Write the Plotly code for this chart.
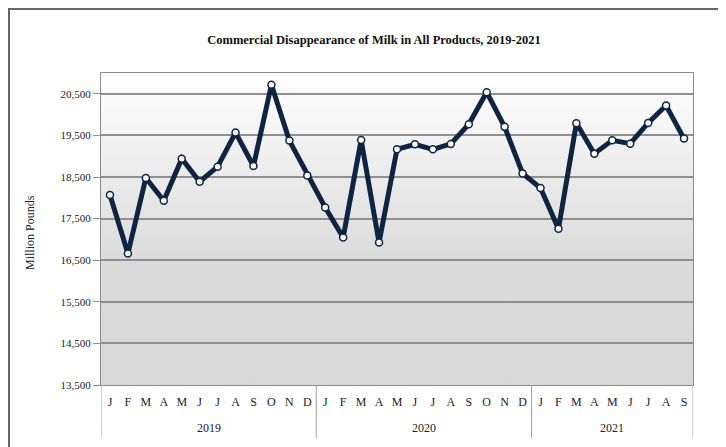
import base64
import plotly.graph_objects as go

years = ["2019", "2020", "2021"]
month_letters = ["J", "F", "M", "A", "M", "J", "J", "A", "S", "O", "N", "D"]
months_per_year = [12, 12, 9]

disappearance = [
    18066, 16660, 18476, 17929, 18941, 18387, 18748, 19567, 18765, 20717, 19375, 18539,
    17767, 17045, 19391, 16924, 19165, 19285, 19165, 19295, 19767, 20539, 19705, 18587,
    18235, 17254, 19792, 19061, 19382, 19302, 19801, 20218, 19423,
]
y_ticks = [13500, 14500, 15500, 16500, 17500, 18500, 19500, 20500]
y_tick_text = ["13,500", "14,500", "15,500", "16,500", "17,500", "18,500", "19,500", "20,500"]

tick_text = []
for n in months_per_year:
    tick_text += month_letters[:n]
x_idx = list(range(len(disappearance)))

FONT = "Liberation Serif"
OFF = 8  # page body margin
WIN_W, WIN_H = 726, 447
W, H = WIN_W - OFF, WIN_H - OFF
# plot area in window pixels
PL, PR, PT, PB = 101, 693, 73, 385
ML, MR, MT, MB = PL - OFF, W - (PR - OFF), PT - OFF, H - (PB - OFF)
pw, ph = PR - PL, PB - PT

def px_x(p):
    return (p - PL) / pw

def px_y(p):
    return (PB - p) / ph

svg = ("<svg xmlns='http://www.w3.org/2000/svg' width='100' height='100' preserveAspectRatio='none'>"
       "<defs><linearGradient id='g' x1='0' y1='0' x2='0' y2='1'>"
       "<stop offset='0' stop-color='#ffffff'/><stop offset='0.62' stop-color='#dadada'/>"
       "<stop offset='1' stop-color='#d8d8d8'/></linearGradient></defs>"
       "<rect width='100' height='100' fill='url(#g)'/></svg>")
bg_src = "data:image/svg+xml;base64," + base64.b64encode(svg.encode()).decode()

xmin, xmax = -0.5, len(disappearance) - 0.5

fig = go.Figure()
fig.add_trace(go.Scatter(
    x=x_idx, y=disappearance, mode="lines+markers", showlegend=False,
    line=dict(color="#0e2440", width=5),
    marker=dict(size=7, color="#ffffff", line=dict(color="#0e2440", width=1.5)),
))

fig.add_layout_image(dict(source=bg_src, xref="paper", yref="paper", x=0, y=1,
                          sizex=1, sizey=1, sizing="stretch", xanchor="left", yanchor="top",
                          layer="below"))

# year labels and dividers
start = 0
bounds = [xmin]
for yr, n in zip(years, months_per_year):
    center = start + (n - 1) / 2
    fig.add_annotation(x=center, y=px_y(428), xref="x", yref="paper", text=yr,
                       yanchor="middle", xanchor="center",
                       showarrow=False, font=dict(family=FONT, size=12, color="#222"))
    start += n
    bounds.append(start - 0.5)
for b in bounds:
    fig.add_shape(type="line", x0=b, x1=b, y0=0, y1=px_y(438), xref="x", yref="paper",
                  line=dict(color="#a0a0a0", width=1))

# outer frame
fig.add_shape(type="rect", x0=px_x(9), x1=px_x(719), y0=px_y(470), y1=px_y(9),
              xref="paper", yref="paper", line=dict(color="#666666", width=2))

fig.add_annotation(x=px_x(30), y=px_y(233), xref="paper", yref="paper", text="Million Pounds",
                   textangle=-90, showarrow=False, xanchor="center", yanchor="middle",
                   font=dict(family=FONT, size=12, color="#222"))

fig.update_layout(
    width=W, height=H,
    margin=dict(l=ML, r=MR, t=MT, b=MB, autoexpand=False),
    paper_bgcolor="white", plot_bgcolor="white",
    title=dict(text="<b>Commercial Disappearance of Milk in All Products, 2019-2021</b>",
               x=(374 - OFF) / W, xref="container", xanchor="center",
               y=1 - (40 - OFF) / H, yref="container", yanchor="middle",
               font=dict(family=FONT, size=12.5, color="#111")),
    xaxis=dict(range=[xmin, xmax], tickmode="array", tickvals=x_idx, ticktext=tick_text,
               showgrid=False, zeroline=False, ticks="", showline=True, linecolor="#8c8c8c",
               linewidth=1, mirror=True, ticklabelstandoff=6, automargin=False,
               tickfont=dict(family=FONT, size=12, color="#222")),
    yaxis=dict(range=[13500, 21000], tickmode="array", tickvals=y_ticks, ticktext=y_tick_text,
               showgrid=True, gridcolor="#8f8f8f", gridwidth=1.5, zeroline=False,
               ticks="outside", ticklen=7, tickcolor="#8f8f8f", showline=True,
               linecolor="#8c8c8c", linewidth=1, mirror=True, automargin=False,
               tickfont=dict(family=FONT, size=11, color="#222")),
)

fig.write_html("out.html")
